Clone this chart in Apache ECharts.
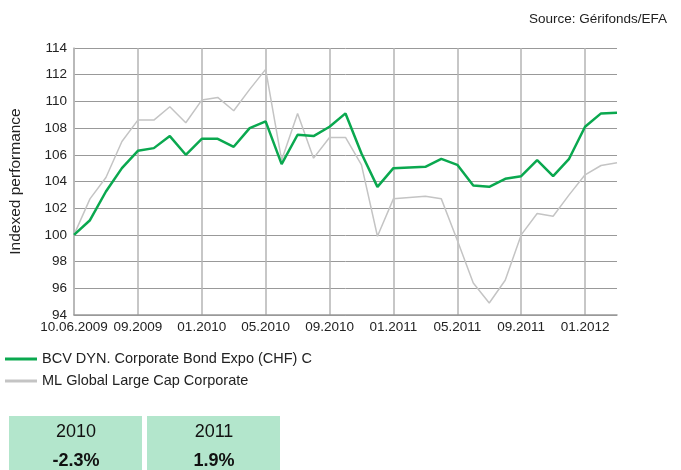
<!DOCTYPE html>
<html><head><meta charset="utf-8">
<script src="https://cdn.jsdelivr.net/npm/echarts@6/dist/echarts.min.js"></script>
<style>html,body{margin:0;padding:0;background:#fff}#c{width:681px;height:470px}</style>
</head><body><div id="c"></div>
<script>
const categories = ["10.06.2009","06.2009","07.2009","08.2009","09.2009","10.2009","11.2009","12.2009",
"01.2010","02.2010","03.2010","04.2010","05.2010","06.2010","07.2010","08.2010",
"09.2010","10.2010","11.2010","12.2010","01.2011","02.2011","03.2011","04.2011",
"05.2011","06.2011","07.2011","08.2011","09.2011","10.2011","11.2011","12.2011",
"01.2012","02.2012","03.2012"];
const bcvName = "BCV DYN. Corporate Bond Expo (CHF) C";
const mlName = "ML Global Large Cap Corporate";
const bcvValues = [100,101.1,103.25,105,106.3,106.5,107.4,106,107.2,107.2,106.6,108,108.5,105.3,107.5,107.4,108.1,109.1,106.1,103.6,105,105.05,105.1,105.7,105.25,103.7,103.6,104.2,104.4,105.6,104.4,105.7,108.1,109.1,109.15];
const mlValues = [100,102.7,104.3,107,108.6,108.6,109.6,108.4,110.1,110.3,109.3,110.9,112.4,105.6,109.1,105.75,107.3,107.3,105.25,99.9,102.7,102.8,102.9,102.7,99.6,96.4,94.9,96.6,100,101.6,101.4,103,104.5,105.2,105.4];
const yearLabels = ["2010","2011"];
const yearReturns = ["-2.3%","1.9%"];
const yTicks = {min:94,max:114,interval:2};

const chart = echarts.init(document.getElementById('c'), null, {renderer:'canvas'});
const font = "'Liberation Sans', Arial, sans-serif";
const cells = [];
yearLabels.forEach((y,i)=>{
  const x0 = 9 + i*138;
  cells.push({type:'rect',shape:{x:x0,y:416,width:133,height:60},style:{fill:'#b3e6cc'}});
  cells.push({type:'text',x:x0+67,y:432,style:{text:y,font:"18px "+font,fill:'#111',align:'center',verticalAlign:'middle'}});
  cells.push({type:'text',x:x0+67,y:461,style:{text:yearReturns[i],font:"bold 18px "+font,fill:'#111',align:'center',verticalAlign:'middle'}});
});
chart.setOption({
  animation:false,
  textStyle:{fontFamily:font},
  grid:{left:73,top:48,right:64,bottom:155,containLabel:false},
  graphic:[
    {type:'text',right:14,top:12,style:{text:'Source: Gérifonds/EFA',font:"13.5px "+font,fill:'#222'}},
    ...cells
  ],
  legend:{orient:'vertical',left:0,top:346,itemWidth:32,itemHeight:3,itemGap:6,icon:'rect',
    textStyle:{fontSize:14.5,color:'#222',fontFamily:font,lineHeight:16},
    data:[bcvName,mlName]},
  xAxis:{type:'category',data:categories,boundaryGap:false,
    axisLine:{lineStyle:{color:'#999',width:1.5}},axisTick:{show:false},
    axisLabel:{interval:3,color:'#222',fontSize:13.5,margin:5,fontFamily:font},
    splitLine:{show:true,interval:3,lineStyle:{color:'#b5b5b5',width:1.5}}},
  yAxis:{type:'value',min:yTicks.min,max:yTicks.max,interval:yTicks.interval,
    name:'Indexed performance',nameLocation:'middle',nameGap:50,
    nameTextStyle:{fontSize:15.5,color:'#222',fontFamily:font},
    axisLine:{show:true,lineStyle:{color:'#b5b5b5',width:1.5}},axisTick:{show:false},
    axisLabel:{color:'#222',fontSize:13.5,margin:7,fontFamily:font},
    splitLine:{lineStyle:{color:'#999',width:1}}},
  series:[
    {name:mlName,type:'line',data:mlValues,symbol:'none',lineStyle:{color:'#c4c4c4',width:1.5},itemStyle:{color:'#c4c4c4'},z:2},
    {name:bcvName,type:'line',data:bcvValues,symbol:'none',lineStyle:{color:'#0aa84f',width:2.5},itemStyle:{color:'#0aa84f'},z:3}
  ]
});
</script></body></html>
